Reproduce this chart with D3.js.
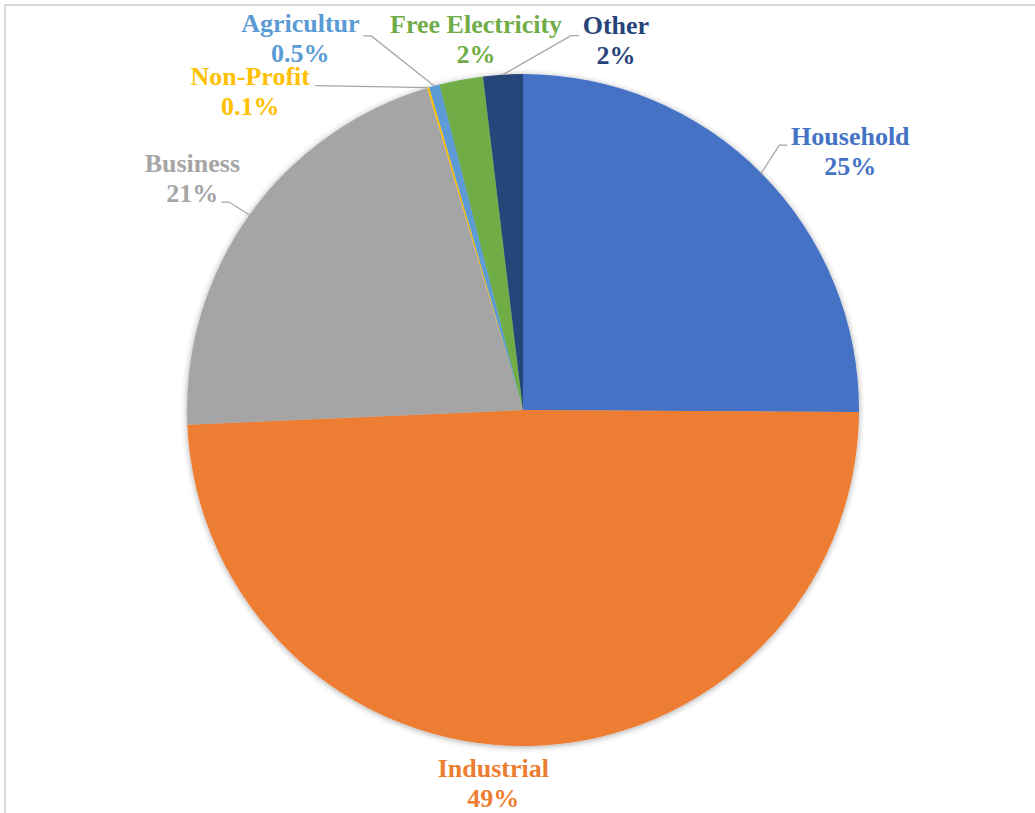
<!DOCTYPE html>
<html lang="en">
<head>
  <meta charset="UTF-8">
  <script src="https://d3js.org/d3.v7.min.js"></script>
  <title>Pie</title>
  <style>
    body { margin: 0; background: #fff; }
    svg { display: block; }
  </style>
</head>
<body>
  <svg width="1035" height="813"></svg>
  <script>
    // data
    var categories = ["Household", "Industrial", "Business", "Non-Profit", "Agricultur", "Free Electricity", "Other"];
    var values = [25.1, 49.2, 21.1, 0.1, 0.5, 2.1, 1.9];
    var valueLabels = ["25%", "49%", "21%", "0.1%", "0.5%", "2%", "2%"];

    var colors = ["#4472C4", "#ED7D31", "#A5A5A5", "#FFC000", "#5B9BD5", "#70AD47", "#264478"];

    // label placement relative to the slice's outer mid point (layout only)
    // lead: where the leader line leaves the label, relative to the label anchor
    var labelLayout = [
      {dx: 89, dy: -28, lead: [-63, 0]},
      {dx: -36, dy: 31, lead: null},
      {dx: -57, dy: -43, lead: [29, 30]},
      {dx: -178, dy: -3, lead: [65, 1], straight: true},
      {dx: -134, dy: -54, lead: [63, 4]},
      {dx: 15, dy: -47, lead: null},
      {dx: 113, dy: -41, lead: [-37, 2]}
    ];

    var svg = d3.select("svg");
    var cx = 523, cy = 410, radius = 336;

    // frame (only top and left edges visible)
    svg.append("rect")
      .attr("x", 5).attr("y", 5)
      .attr("width", 1100).attr("height", 900)
      .attr("fill", "none")
      .attr("stroke", "#d9d9d9")
      .attr("stroke-width", 2);

    var defs = svg.append("defs");
    defs.append("filter")
      .attr("id", "shadow")
      .attr("x", "-10%").attr("y", "-10%")
      .attr("width", "120%").attr("height", "120%")
      .append("feDropShadow")
      .attr("dx", 0).attr("dy", 1)
      .attr("stdDeviation", 3)
      .attr("flood-color", "#000")
      .attr("flood-opacity", 0.35);

    var g = svg.append("g").attr("transform", "translate(" + cx + "," + cy + ")");

    var pie = d3.pie().sort(null).value(function(d) { return d; });
    var pieData = pie(values);

    var arc = d3.arc().innerRadius(0).outerRadius(radius);
    var edgeArc = d3.arc().innerRadius(radius).outerRadius(radius);

    g.append("g")
      .attr("filter", "url(#shadow)")
      .selectAll("path")
      .data(pieData)
      .enter()
      .append("path")
      .attr("d", arc)
      .attr("fill", function(d, i) { return colors[i]; });

    // labels
    var labels = g.append("g");
    pieData.forEach(function(d, i) {
      var p = edgeArc.centroid(d);
      var L = labelLayout[i];
      var ax = p[0] + L.dx, ay = p[1] + L.dy;

      if (L.lead) {
        var sx = ax + L.lead[0], sy = ay + L.lead[1];
        var pts = [[sx, sy]];
        if (!L.straight) {
          var dir = p[0] > sx ? 1 : -1;
          pts.push([sx + dir * 8, sy]);
        }
        pts.push(p);
        labels.append("path")
          .attr("d", d3.line()(pts))
          .attr("fill", "none")
          .attr("stroke", "#a6a6a6")
          .attr("stroke-width", 1.3);
      }

      var t = labels.append("text")
        .attr("text-anchor", "middle")
        .attr("font-family", "'Liberation Serif', 'Times New Roman', serif")
        .attr("font-weight", "bold")
        .attr("font-size", 26)
        .attr("fill", colors[i]);
      t.append("tspan").attr("x", ax).attr("y", ay).text(categories[i]);
      t.append("tspan").attr("x", ax).attr("y", ay + 30).text(valueLabels[i]);
    });
  </script>
</body>
</html>
